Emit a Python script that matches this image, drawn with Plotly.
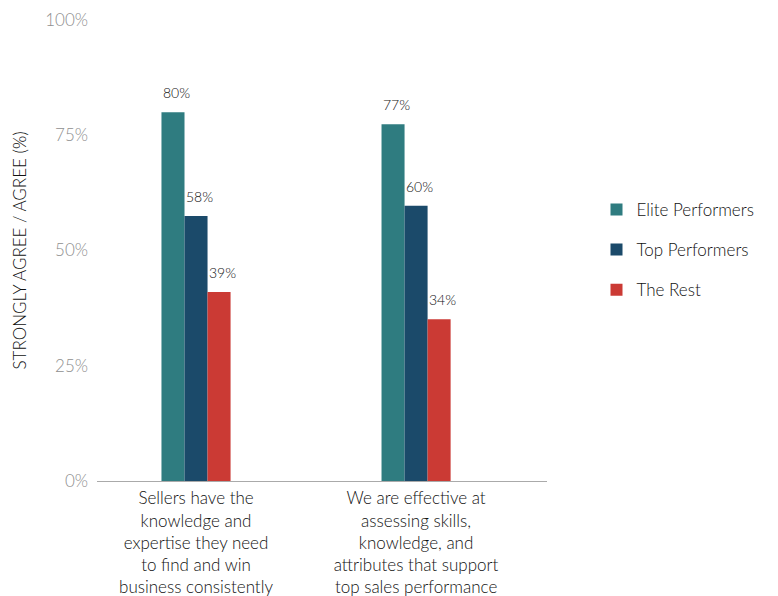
import plotly.graph_objects as go

categories = [
    "Sellers have the<br>knowledge and<br>expertise they need<br>to find and win<br>business consistently",
    "We are effective at<br>assessing skills,<br>knowledge, and<br>attributes that support<br>top sales performance",
]
series_names = ["Elite Performers", "Top Performers", "The Rest"]
series_values = [
    [80, 77.4],
    [57.5, 59.7],
    [41, 35.1],
]
series_labels = [
    ["80%", "77%"],
    ["58%", "60%"],
    ["39%", "34%"],
]
colors = ["#2F7C80", "#1B4A6A", "#CB3A34"]
y_ticks = [0, 25, 50, 75, 100]
y_tick_labels = ["0%", "25%", "50%", "75%", "100%"]

FONT = "Lato"
W = 300
TXT = "#111111"
fig = go.Figure()
for i, name in enumerate(series_names):
    fig.add_trace(go.Bar(
        name=name, x=[0, 1], y=series_values[i],
        marker=dict(color=colors[i], line=dict(width=0)),
        legendgroup=name,
    ))
    for j in range(2):
        fig.add_annotation(
            x=j, y=series_values[i][j], text=series_labels[i][j],
            xshift=(i - 1) * 23 + 3, yshift=9, yanchor="bottom", showarrow=False,
            font=dict(family=FONT, size=14, color=TXT, weight=W),
        )

fig.update_layout(
    width=778, height=596,
    margin=dict(l=97, r=231, t=20, b=115, autoexpand=False),
    plot_bgcolor="white", paper_bgcolor="white",
    barmode="group", bargap=0.686, bargroupgap=0,
    font=dict(family=FONT, size=17, color=TXT, weight=W),
    xaxis=dict(
        range=[-0.45, 1.595], tickmode="array", tickvals=[0, 1], ticktext=categories,
        showline=True, linecolor="#aaaaaa", linewidth=1, ticks="", showgrid=False,
        zeroline=False, automargin=False, ticklabelstandoff=2,
        tickfont=dict(family=FONT, size=17, color=TXT, weight=W),
    ),
    yaxis=dict(
        range=[0, 100], tickmode="array", tickvals=y_ticks, ticktext=y_tick_labels,
        showgrid=False, zeroline=False, showline=False, ticks="",
        ticklabelstandoff=8, automargin=False,
        tickfont=dict(family=FONT, size=17, color="#8f8f8f", weight=W),
        title=dict(text="STRONGLY AGREE / AGREE (%)", standoff=14,
                   font=dict(family=FONT, size=17, color=TXT, weight=W)),
    ),
    legend=dict(
        x=1.11, xanchor="left", y=0.627, yanchor="top",
        traceorder="grouped", tracegroupgap=15,
        font=dict(family=FONT, size=17, color=TXT, weight=W),
    ),
)
fig.write_html("out.html")
